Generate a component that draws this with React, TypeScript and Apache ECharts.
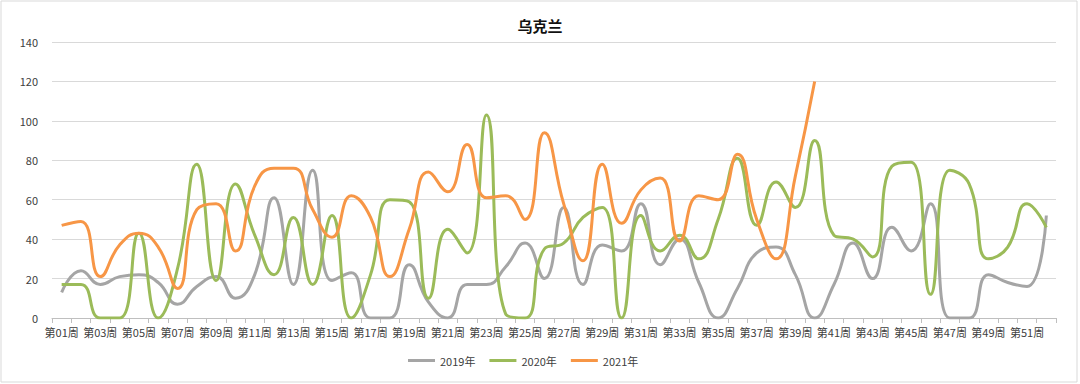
import React, { useEffect, useRef } from "react";
import * as echarts from "echarts";

const weeks: string[] = Array.from({ length: 52 }, (_, i) => `第${String(i + 1).padStart(2, "0")}周`);

const s2019: (number | null)[] = [
  13, 24, 17, 21, 22, 18, 7, 16, 21, 10, 22, 61, 17, 75, 19, 23, 0, 0, 27, 8,
  0, 17, 17, 26, 38, 20, 56, 17, 37, 34, 58, 27, 40, 18, 0, 15, 33, 36, 22, 0,
  17, 38, 20, 46, 34, 58, 0, 0, 22, 18, 16, 52,
];
const s2020: (number | null)[] = [
  17, 17, 0, 0, 43, 0, 25, 78, 19, 68, 42, 22, 51, 17, 52, 0, 22, 60, 59, 10,
  45, 33, 103, 2, 0, 35, 38, 51, 56, 0, 52, 34, 42, 30, 50, 81, 47, 69, 56, 90,
  42, 40, 31, 77, 79, 12, 75, 68, 30, 36, 58, 46,
];
const s2021: (number | null)[] = [
  47, 49, 21, 37, 43, 36, 15, 55, 58, 34, 67, 76, 76, 55, 41, 62, 51, 21, 45, 74,
  64, 88, 61, 62, 50, 94, 58, 29, 78, 48, 65, 71, 39, 62, 60, 83, 50, 30, 72, 120,
];

const seriesNames = ["2019年", "2020年", "2021年"];
const colors = ["#A5A5A5", "#9BBB59", "#F79646"];
const title = "乌克兰";

const FONT = "'Noto Sans CJK SC', 'Noto Sans', sans-serif";

export default function App() {
  const ref = useRef<HTMLDivElement>(null);
  useEffect(() => {
    document.body.style.margin = "0";
    const chart = echarts.init(ref.current!, null, { renderer: "svg" });
    const data = [s2019, s2020, s2021];
    chart.setOption({
      animation: false,
      backgroundColor: "#ffffff",
      title: {
        text: title,
        left: "center",
        top: 13,
        textStyle: { fontFamily: FONT, fontSize: 15, fontWeight: "bold", color: "#111" },
      },
      legend: {
        data: seriesNames,
        left: 403,
        top: 350,
        icon: "rect",
        itemWidth: 27,
        itemHeight: 3,
        itemGap: 14,
        textStyle: { fontFamily: FONT, fontSize: 11, color: "#404040" },
      },
      grid: { left: 52, right: 24, top: 42, bottom: 66, containLabel: false },
      xAxis: {
        type: "category",
        data: weeks,
        boundaryGap: true,
        axisLine: { lineStyle: { color: "#BFBFBF", width: 1 } },
        axisTick: { show: true, interval: 0, length: 5, lineStyle: { color: "#BFBFBF" } },
        axisLabel: { interval: 1, margin: 8, fontFamily: FONT, fontSize: 11, color: "#404040" },
      },
      yAxis: {
        type: "value",
        min: 0,
        max: 140,
        interval: 20,
        axisLine: { show: false },
        axisTick: { show: false },
        axisLabel: { margin: 14, fontFamily: FONT, fontSize: 11, color: "#404040" },
        splitLine: { lineStyle: { color: "#D9D9D9", width: 1 } },
      },
      series: data.map((d, i) => ({
        name: seriesNames[i],
        type: "line",
        data: d,
        smooth: 0.5,
        showSymbol: false,
        symbol: "none",
        clip: true,
        lineStyle: { color: colors[i], width: 3 },
        itemStyle: { color: colors[i] },
      })),
      graphic: [
        {
          type: "rect",
          shape: { x: 1, y: 1, width: 1076, height: 381 },
          style: { fill: "none", stroke: "#D9D9D9", lineWidth: 1 },
          silent: true,
        },
      ],
    });
    return () => chart.dispose();
  }, []);
  return <div ref={ref} style={{ width: 1080, height: 384, position: "absolute", left: 0, top: 0 }} />;
}
